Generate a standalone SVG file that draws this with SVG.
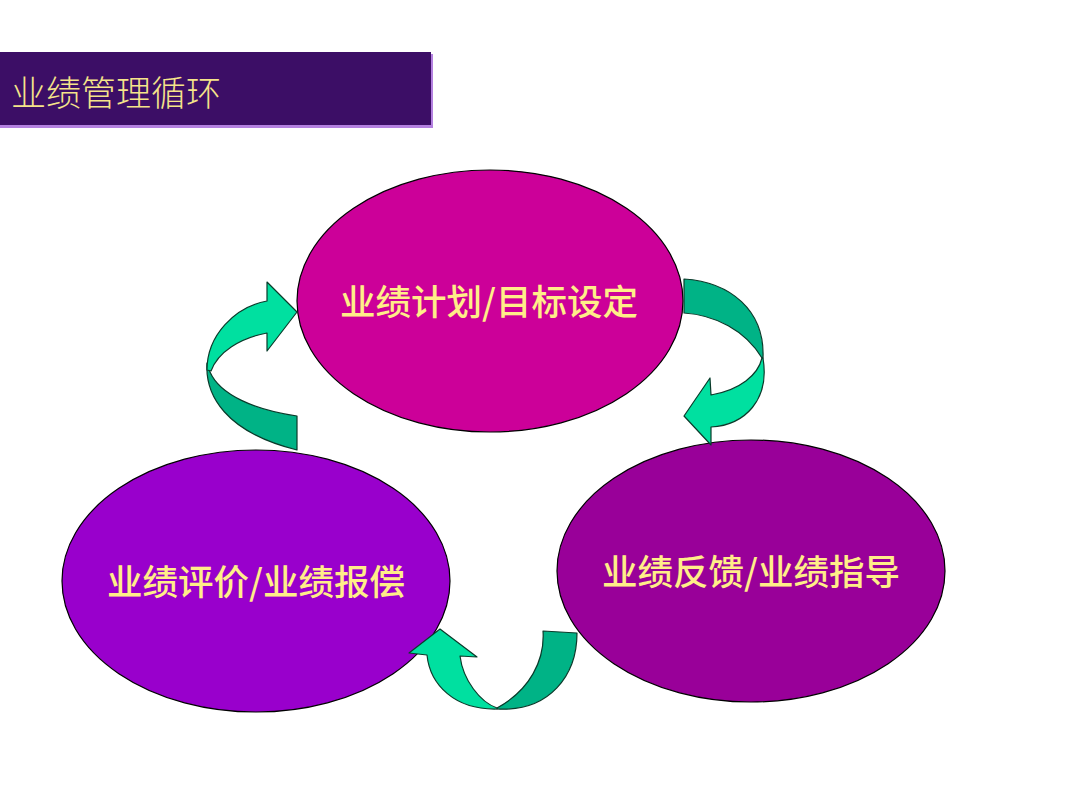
<svg xmlns="http://www.w3.org/2000/svg" width="1080" height="810" viewBox="0 0 1080 810">
<style>
.node{stroke:#000;stroke-width:1.2}
.lbl{font-family:"Noto Sans CJK SC","Noto Sans",sans-serif;font-size:35.5px;fill:#ffee88;text-anchor:middle;font-weight:500}
.lt{fill:#00e0a0;stroke:#0a3a2a;stroke-width:1.2;stroke-linejoin:round}
.dk{fill:#00b386;stroke:#0a3a2a;stroke-width:1.2;stroke-linejoin:round}
</style>
<rect width="1080" height="810" fill="#fff"/>
<g id="title">
<rect x="0" y="54" width="433" height="74" fill="#b480e0"/>
<rect x="0" y="52" width="431" height="73" fill="#3c0e66"/>
<text x="11" y="106" style="font-family:'Noto Sans CJK SC',sans-serif;font-size:35px;font-weight:300;fill:#f5e48a">业绩管理循环</text>
</g>
<g id="node-plan">
<ellipse class="node" cx="490" cy="301" rx="193" ry="131" fill="#cc0099"/>
<text class="lbl" x="489" y="315">业绩计划/目标设定</text>
</g>
<g id="node-feedback">
<ellipse class="node" cx="751" cy="571" rx="194" ry="131" fill="#990099"/>
<text class="lbl" x="751" y="585">业绩反馈/业绩指导</text>
</g>
<g id="node-eval">
<ellipse class="node" cx="256" cy="581" rx="194" ry="131" fill="#9900cc"/>
<text class="lbl" x="256" y="595">业绩评价/业绩报偿</text>
</g>
<g id="connectors">
<path class="dk" d="M207,363 C205,395 225,432 297,450 L297,416 C255,410 220,395 210,372 Z"/>
<path class="lt" d="M207,370 C207,335 235,307 267,301 L267,282 L297,312 L267,351 L267,333 C240,338 218,352 211,371 Z"/>
<path class="dk" d="M684,279 C730,282 765,310 763,358 L762,358 C745,330 715,315 684,313 Z"/>
<path class="lt" d="M763,358 C770,400 745,425 711,427 L711,445 L684,416 L710,378 L711,395 C740,390 758,375 762,358 Z"/>
<path class="dk" d="M543,631 L577,633 C577,675 550,712 497,709 L497,708 C530,690 545,660 543,631 Z"/>
<path class="lt" d="M497,709 C455,710 430,685 427,655 L409,653 L440,629 L477,657 L460,656 C463,680 480,702 497,708 Z"/>
</g>
</svg>
